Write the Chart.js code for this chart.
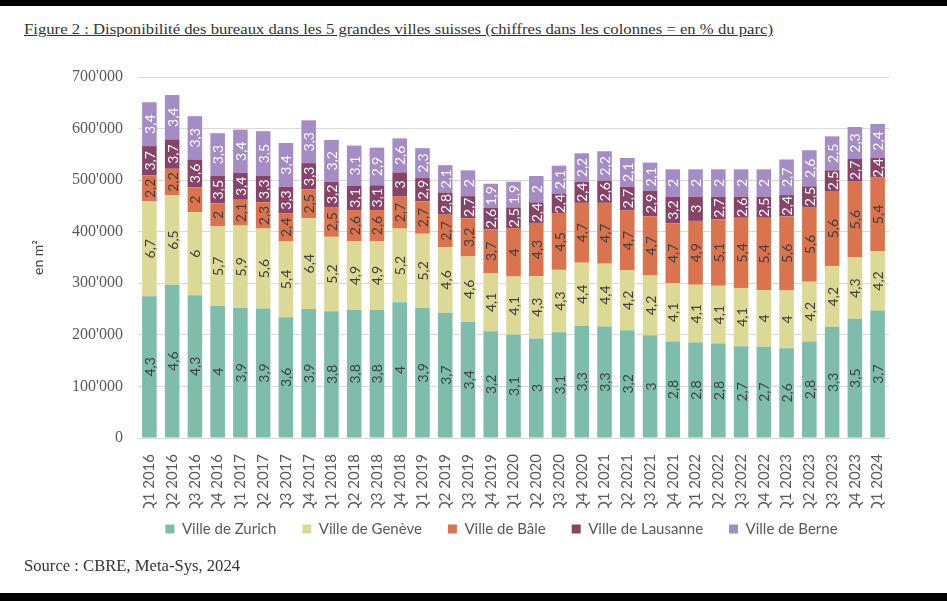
<!DOCTYPE html>
<html lang="fr">
<head>
<meta charset="utf-8">
<title>Disponibilité des bureaux</title>
<script src="https://cdn.jsdelivr.net/npm/chart.js@4.4.1/dist/chart.umd.min.js"></script>
<style>
    html, body { margin: 0; padding: 0; background: #fff; }
    body { width: 947px; height: 601px; position: relative; overflow: hidden; }
    .band { position: absolute; left: 0; width: 947px; background: #000; }
    .serif { position: absolute; left: 24px; font-family: "Liberation Serif", "Times New Roman", serif; color: #333; white-space: nowrap; transform-origin: 0 0; z-index: 2; }
    #title { top: 21px; font-size: 15px; text-decoration: underline; }
    #source { top: 556px; font-size: 16.5px; }
    #wrap { position: absolute; left: 0; top: 50px; width: 947px; height: 509px; }
</style>
</head>
<body>
<div class="band" style="top:0;height:6px"></div>
<div class="band" style="top:593px;height:8px"></div>
<div id="title" class="serif">Figure 2 : Disponibilité des bureaux dans les 5 grandes villes suisses (chiffres dans les colonnes = en % du parc)</div>
<div id="source" class="serif">Source : CBRE, Meta-Sys, 2024</div>
<div id="wrap"><canvas id="chart"></canvas></div>

<script>
// Quarters
const quarters = [
    'Q1 2016', 'Q2 2016', 'Q3 2016', 'Q4 2016',
    'Q1 2017', 'Q2 2017', 'Q3 2017', 'Q4 2017',
    'Q1 2018', 'Q2 2018', 'Q3 2018', 'Q4 2018',
    'Q1 2019', 'Q2 2019', 'Q3 2019', 'Q4 2019',
    'Q1 2020', 'Q2 2020', 'Q3 2020', 'Q4 2020',
    'Q1 2021', 'Q2 2021', 'Q3 2021', 'Q4 2021',
    'Q1 2022', 'Q2 2022', 'Q3 2022', 'Q4 2022',
    'Q1 2023', 'Q2 2023', 'Q3 2023', 'Q4 2023',
    'Q1 2024'
];

// Available office space in m2
const zurichM2 = [275000, 297000, 277000, 256000, 252000, 251000, 234000, 250000, 246000, 248000, 248000,
    263000, 252000, 243000, 225000, 207000, 200000, 193000, 205000, 217000, 216000, 209000,
    199000, 187000, 185000, 183000, 178000, 177000, 174000, 187000, 215000, 231000, 247000];
const geneveM2 = [184000, 174000, 161000, 154000, 160000, 155000, 147000, 176000, 144000, 134000, 134000,
    143000, 144000, 127000, 127000, 112000, 113000, 121000, 121000, 123000, 122000, 116000,
    116000, 113000, 112000, 112000, 113000, 110000, 112000, 116000, 118000, 119000, 115000];
const baleM2 = [50000, 51000, 48000, 45000, 50000, 51000, 55000, 56000, 58000, 60000, 60000,
    62000, 63000, 63000, 74000, 86000, 94000, 103000, 109000, 116000, 118000, 116000,
    115000, 116000, 124000, 129000, 136000, 140000, 144000, 145000, 146000, 147000, 143000];
const lausanneM2 = [57000, 57000, 54000, 53000, 52000, 51000, 51000, 51000, 49000, 47000, 48000,
    47000, 45000, 43000, 43000, 41000, 40000, 40000, 39000, 41000, 43000, 46000,
    49000, 52000, 47000, 44000, 41000, 41000, 41000, 40000, 40000, 44000, 38000];
const berneM2 = [85000, 86000, 84000, 83000, 84000, 87000, 85000, 83000, 81000, 78000, 73000,
    66000, 58000, 53000, 50000, 47000, 50000, 51000, 54000, 55000, 57000, 56000,
    55000, 53000, 53000, 53000, 53000, 53000, 69000, 70000, 66000, 62000, 66000];

// Labels inside the columns (% of the stock)
const zurichPct = [4.3, 4.6, 4.3, 4, 3.9, 3.9, 3.6, 3.9, 3.8, 3.8, 3.8,
    4, 3.9, 3.7, 3.4, 3.2, 3.1, 3, 3.1, 3.3, 3.3, 3.2,
    3, 2.8, 2.8, 2.8, 2.7, 2.7, 2.6, 2.8, 3.3, 3.5, 3.7];
const genevePct = [6.7, 6.5, 6, 5.7, 5.9, 5.6, 5.4, 6.4, 5.2, 4.9, 4.9,
    5.2, 5.2, 4.6, 4.6, 4.1, 4.1, 4.3, 4.3, 4.4, 4.4, 4.2,
    4.2, 4.1, 4.1, 4.1, 4.1, 4, 4, 4.2, 4.2, 4.3, 4.2];
const balePct = [2.2, 2.2, 2, 2, 2.1, 2.3, 2.4, 2.5, 2.5, 2.6, 2.6,
    2.7, 2.7, 2.7, 3.2, 3.7, 4, 4.3, 4.5, 4.7, 4.7, 4.7,
    4.7, 4.7, 4.9, 5.1, 5.4, 5.4, 5.6, 5.6, 5.6, 5.6, 5.4];
const lausannePct = [3.7, 3.7, 3.6, 3.5, 3.4, 3.3, 3.3, 3.3, 3.2, 3.1, 3.1,
    3, 2.9, 2.8, 2.7, 2.6, 2.5, 2.4, 2.4, 2.4, 2.6, 2.7,
    2.9, 3.2, 3, 2.7, 2.6, 2.5, 2.4, 2.5, 2.5, 2.7, 2.4];
const bernePct = [3.4, 3.4, 3.3, 3.3, 3.4, 3.5, 3.4, 3.3, 3.2, 3.1, 2.9,
    2.6, 2.3, 2.1, 2, 1.9, 1.9, 2, 2.1, 2.2, 2.2, 2.1,
    2.1, 2, 2, 2, 2, 2, 2.7, 2.6, 2.5, 2.3, 2.4];

const yTicks = [0, 100000, 200000, 300000, 400000, 500000, 600000, 700000];

const textGrey = '#595959';
const sansFont = 'Lato, "Open Sans", sans-serif';

// Swiss thousands separator
function swissNumber(v) {
    return String(v).replace(/\B(?=(\d{3})+(?!\d))/g, "'");
}

// Draws the % figures vertically inside each segment
const columnLabels = {
    id: 'columnLabels',
    afterDatasetsDraw(chart) {
        const ctx = chart.ctx;
        chart.data.datasets.forEach((ds, i) => {
            const meta = chart.getDatasetMeta(i);
            meta.data.forEach((bar, j) => {
                const txt = String(ds.pct[j]).replace('.', ',');
                ctx.save();
                ctx.translate(bar.x, (bar.y + bar.base) / 2);
                ctx.rotate(-Math.PI / 2);
                ctx.font = '14px ' + sansFont;
                ctx.fillStyle = ds.labelColor;
                ctx.textAlign = 'center';
                ctx.textBaseline = 'middle';
                ctx.fillText(txt, 0, 1);
                ctx.restore();
            });
        });
    }
};

// Pull the legend up and a bit to the left, as in the figure
const legendNudge = {
    id: 'legendNudge',
    afterLayout(chart) {
        const lg = chart.legend;
        if (!lg) return;
        lg.top -= 12.5;
        lg.bottom -= 12.5;
        lg.left -= 12;
        lg.right -= 12;
    }
};

function makeSet(label, data, pct, color, labelColor) {
    return {
        label: label,
        data: data,
        pct: pct,
        labelColor: labelColor,
        backgroundColor: color,
        borderWidth: 0,
        categoryPercentage: 1,
        barPercentage: 0.64
    };
}

new Chart(document.getElementById('chart'), {
    type: 'bar',
    data: {
        labels: quarters,
        datasets: [
            makeSet('Ville de Zurich', zurichM2, zurichPct, '#7ebcac', '#404040'),
            makeSet('Ville de Genève', geneveM2, genevePct, '#dcd996', '#404040'),
            makeSet('Ville de Bâle', baleM2, balePct, '#d9744f', '#404040'),
            makeSet('Ville de Lausanne', lausanneM2, lausannePct, '#874468', '#ffffff'),
            makeSet('Ville de Berne', berneM2, bernePct, '#a68cc5', '#ffffff')
        ]
    },
    options: {
        responsive: true,
        maintainAspectRatio: false,
        animation: false,
        layout: { padding: { top: 27, right: 58, left: 0, bottom: 0 } },
        plugins: {
            tooltip: { enabled: false },
            legend: {
                position: 'bottom',
                fullSize: false,
                labels: {
                    boxWidth: 9,
                    boxHeight: 9,
                    padding: 26,
                    color: textGrey,
                    font: { family: sansFont, size: 15 }
                }
            }
        },
        scales: {
            x: {
                stacked: true,
                grid: { display: false },
                border: { display: true, color: '#d9d9d9' },
                ticks: {
                    color: textGrey,
                    font: { family: sansFont, size: 15 },
                    minRotation: 90,
                    maxRotation: 90,
                    autoSkip: false,
                    padding: 8
                },
                afterFit(scale) { scale.height = 70; }
            },
            y: {
                stacked: true,
                min: 0,
                max: 700000,
                grid: { color: '#d9d9d9', drawTicks: false },
                border: { display: false },
                afterBuildTicks(scale) { scale.ticks = yTicks.map(v => ({ value: v })); },
                ticks: {
                    color: textGrey,
                    font: { family: '"Liberation Serif", serif', size: 16 },
                    padding: 15,
                    callback: v => swissNumber(v)
                },
                title: {
                    display: true,
                    text: 'en m²',
                    color: '#404040',
                    font: { family: sansFont, size: 14 },
                    padding: { top: 30, bottom: 0 }
                },
                afterFit(scale) { scale.width = 138; }
            }
        }
    },
    plugins: [columnLabels, legendNudge]
});

// Fit the serif captions to the width they have in the figure
function fitWidth(id, target) {
    const el = document.getElementById(id);
    const w = el.getBoundingClientRect().width;
    el.style.transform = 'scaleX(' + (target / w) + ')';
}
fitWidth('title', 749);
fitWidth('source', 216);
</script>
</body>
</html>
